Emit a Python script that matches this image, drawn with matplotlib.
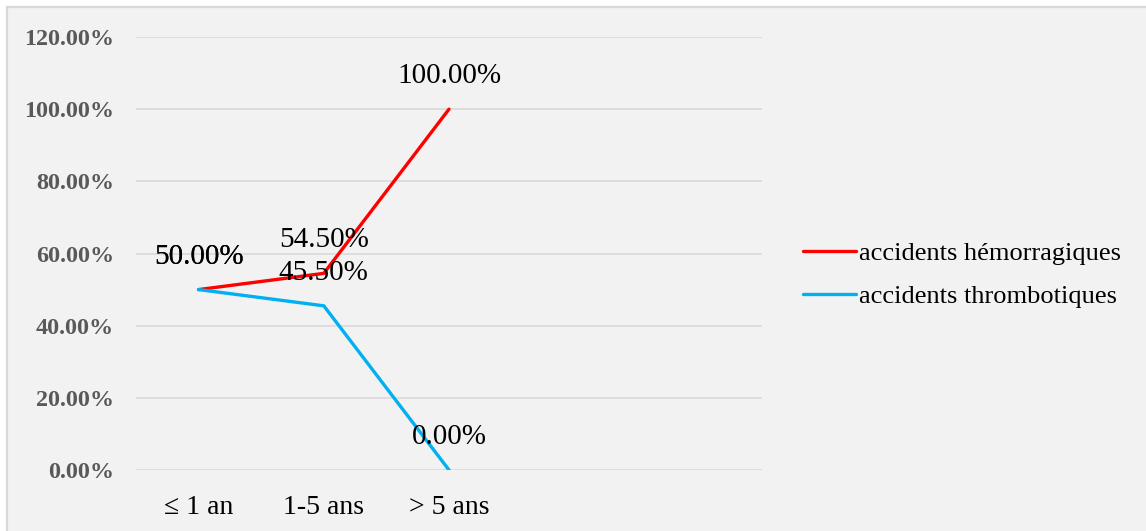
import matplotlib
matplotlib.use("Agg")
import matplotlib.pyplot as plt
from matplotlib.patches import Rectangle

categories = ["\u2264 1 an", "1-5 ans", "> 5 ans"]
hemorragiques = [50.0, 54.5, 100.0]
thrombotiques = [50.0, 45.5, 0.0]
series_names = ["accidents hémorragiques", "accidents thrombotiques"]
series_colors = ["#FF0000", "#00B0F0"]
y_ticks = [0, 20, 40, 60, 80, 100, 120]

W, H, DPI = 1146, 531, 100
fig = plt.figure(figsize=(W / DPI, H / DPI), dpi=DPI)
fig.patch.set_facecolor("white")

# chart area panel with a light border
panel = Rectangle((7 / W, -0.01), 1.0, 1 - 7 / H + 0.01, transform=fig.transFigure,
                  facecolor="#F2F2F2", edgecolor="#D9D9D9", linewidth=1.6, zorder=-10)
fig.patches.append(panel)

ax = fig.add_axes([136 / W, 1 - 470 / H, (762 - 136) / W, (470 - 37) / H])
ax.set_zorder(1)
ax.set_facecolor("none")

x = list(range(len(categories)))
for vals, name, col in zip([hemorragiques, thrombotiques], series_names, series_colors):
    ax.plot(x, vals, color=col, linewidth=2.4, label=name, solid_capstyle="round", zorder=3)
    for xi, v in zip(x, vals):
        ax.annotate(f"{v:.2f}%", (xi, v), xytext=(0, 33), textcoords="offset pixels",
                    ha="center", va="center", fontsize=21, family="Liberation Serif",
                    color="black", zorder=4)

ax.set_xlim(-0.5, 4.5)
ax.set_ylim(0, 120)
ax.set_yticks(y_ticks)
ax.set_yticklabels([f"{t:.2f}%" for t in y_ticks], family="Liberation Serif",
                   fontweight="bold", fontsize=17.4, color="#595959")
ax.set_xticks(x)
ax.set_xticklabels(categories, family=["Liberation Serif", "DejaVu Serif"], fontsize=20, color="black")
ax.tick_params(axis="both", length=0)
ax.tick_params(axis="y", pad=16)
ax.tick_params(axis="x", pad=18)
ax.grid(axis="y", color="#D9D9D9", linewidth=1.2)
ax.set_axisbelow(True)
for s in ax.spines.values():
    s.set_visible(False)

leg = fig.legend(loc="center left", bbox_to_anchor=(779 / W, 1 - 274.5 / H), frameon=False,
                 prop={"family": "Liberation Serif", "size": 19}, handlelength=2.0,
                 handletextpad=0.15, labelspacing=0.74)

fig.savefig("out.png", dpi=DPI, facecolor=fig.get_facecolor())
